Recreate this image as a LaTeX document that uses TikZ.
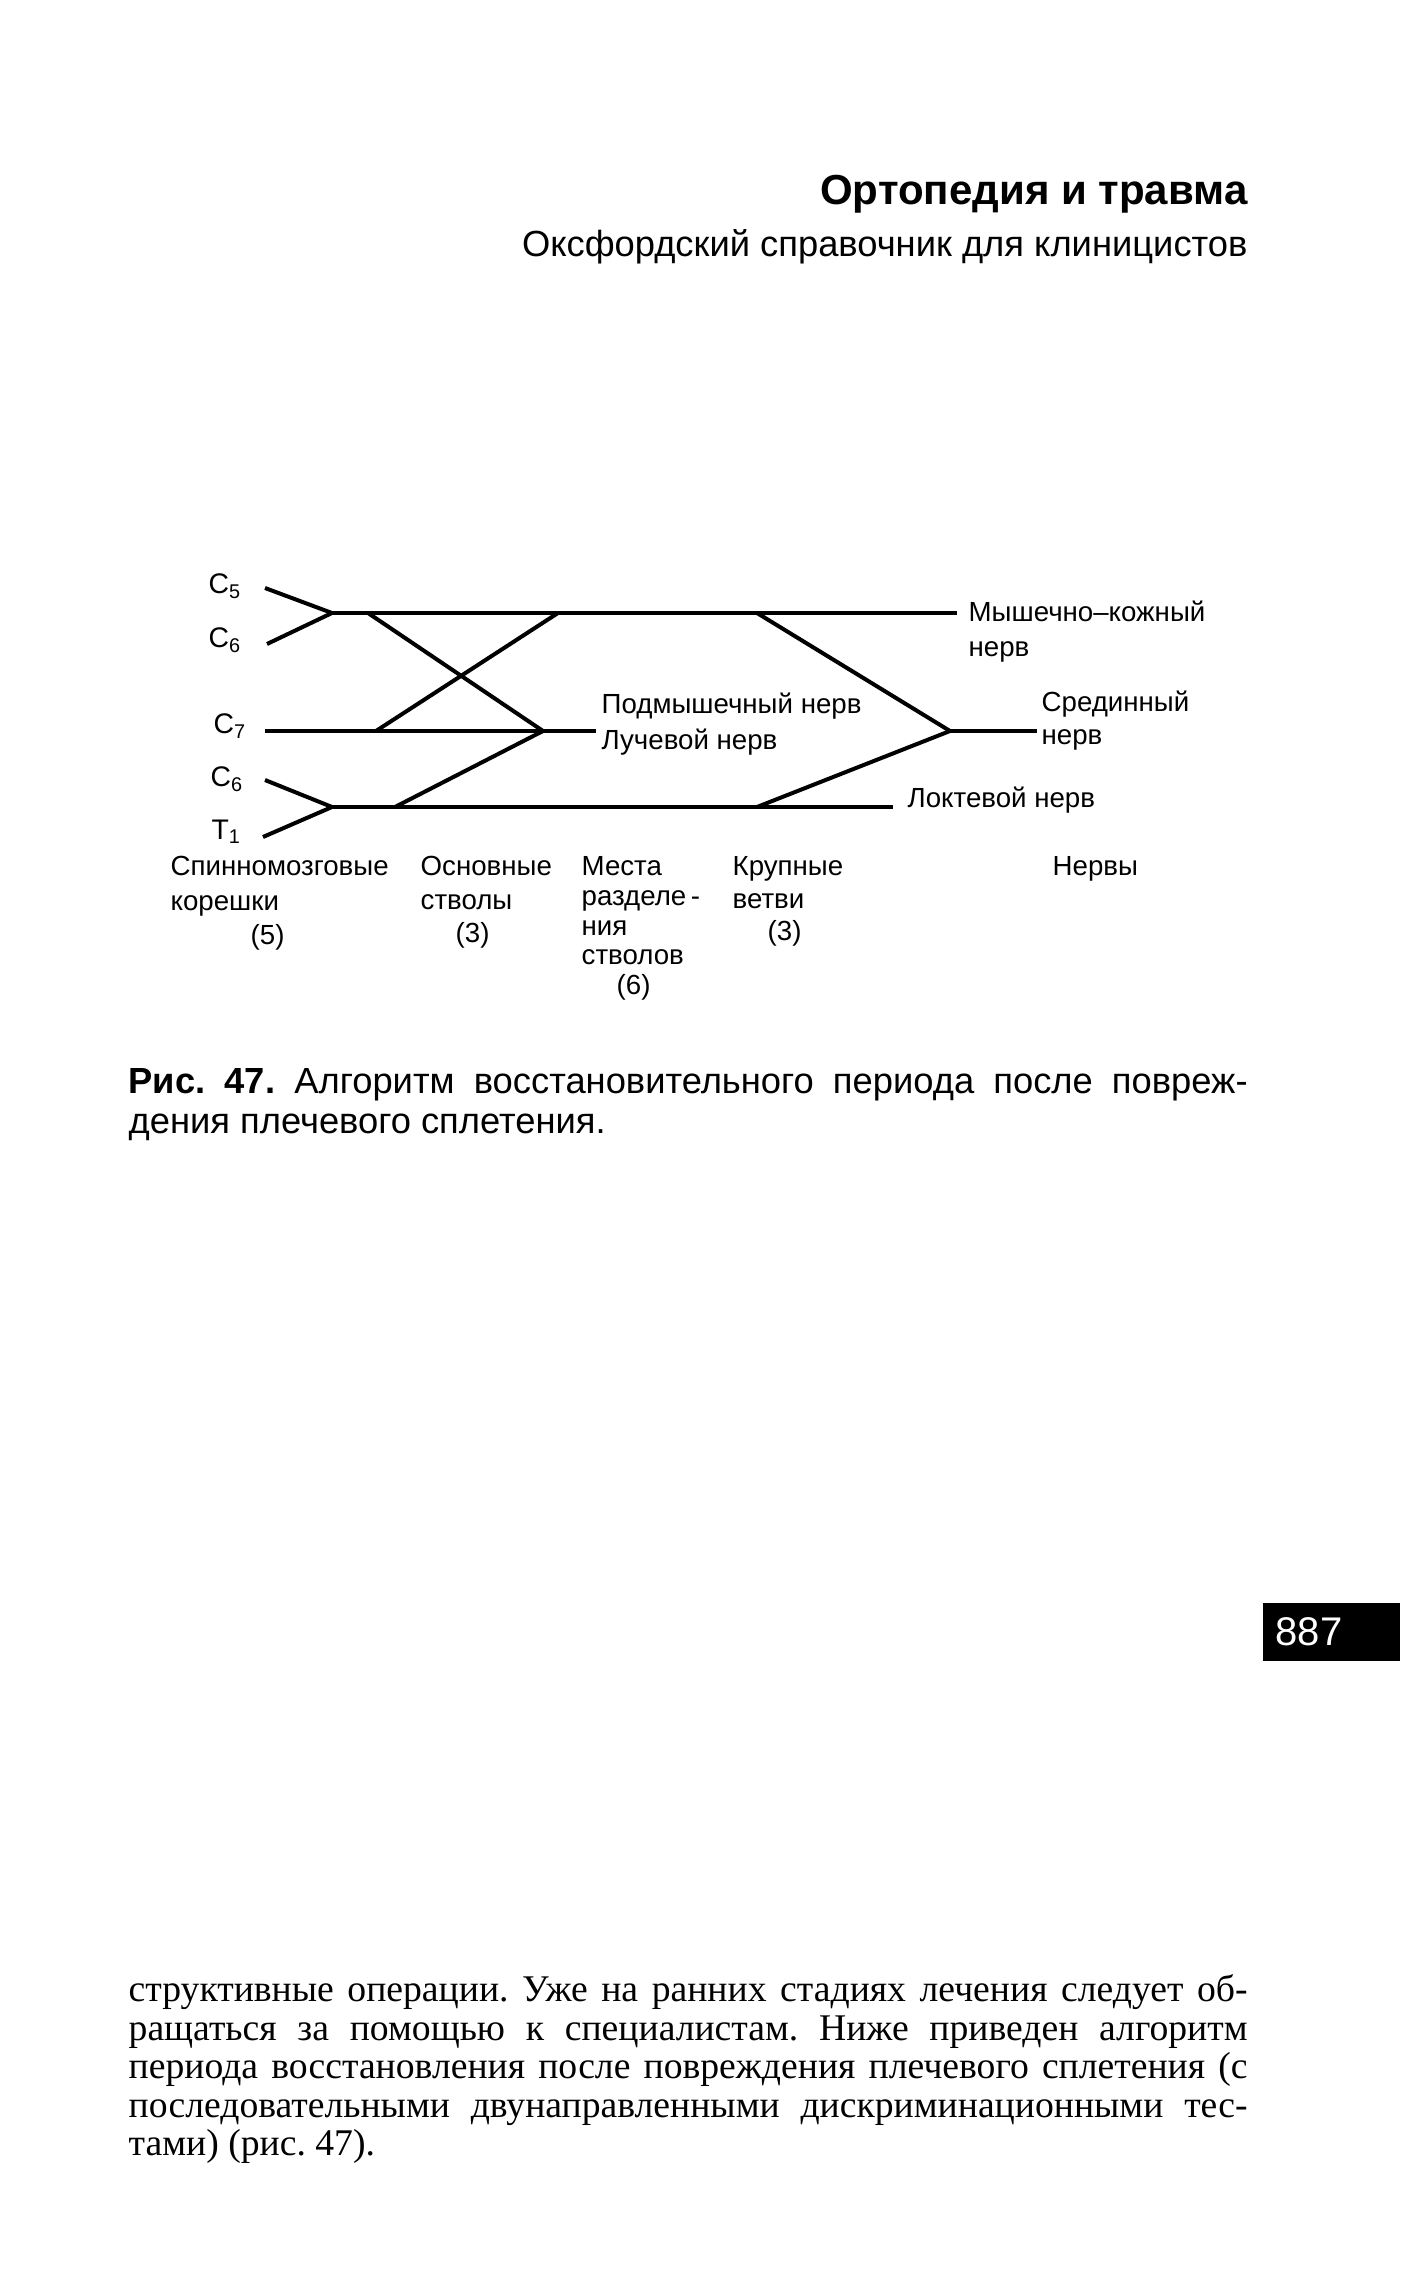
\documentclass[tikz,border=0pt]{standalone}
\usepackage{fontspec}
\setmainfont{Liberation Serif}
\setsansfont{Liberation Sans}
\usetikzlibrary{positioning}
\hyphenpenalty=10000
\tolerance=9999
\frenchspacing

\tikzstyle{nerve} = [line width=1.2pt]
\tikzstyle{rootlbl} = [anchor=west, inner sep=0pt, font=\sffamily\fontsize{8.5}{10}\selectfont]
\tikzstyle{nervelbl} = [anchor=north west, inner sep=0pt, align=left, font=\sffamily\fontsize{8.3}{10.5}\selectfont]
\tikzstyle{colhead} = [anchor=north west, inner sep=0pt, align=left]
\tikzstyle{headline} = [anchor=base east, inner sep=0pt]
\tikzstyle{textblock} = [anchor=north west, inner sep=0pt, text width=335.7pt, align=justify]
\tikzstyle{pagebox} = [anchor=north west, fill=black, text=white, inner xsep=3.9pt, inner ysep=0pt,
        minimum height=17.4pt, text width=33.3pt, align=left, font=\sffamily\fontsize{12}{14}\selectfont]

\begin{document}
\begin{tikzpicture}[x=0.3pt, y=-0.3pt]
\useasboundingbox (0,0) rectangle (1417,2279);

% header
\node (title) [headline, font=\sffamily\bfseries\fontsize{12.6}{15}\selectfont] at (1248,205) {Ортопедия и травма};
\node (subtitle) [headline, font=\sffamily\fontsize{10.9}{13}\selectfont] at (1248,257) {Оксфордский справочник для клиницистов};

% spinal roots
\node (c5) [rootlbl] at (208,586) {C\textsubscript{5}};
\node (c6) [rootlbl] at (208,640) {C\textsubscript{6}};
\node (c7) [rootlbl] at (213,726) {C\textsubscript{7}};
\node (c6b) [rootlbl] at (210,779) {C\textsubscript{6}};
\node (t1) [rootlbl] at (211,832) {T\textsubscript{1}};

\coordinate (c5s) at (265,588);
\coordinate (c6s) at (267,644);
\coordinate (c7s) at (265,731);
\coordinate (c6bs) at (265,780);
\coordinate (t1s) at (263,837);

% trunks and cords
\coordinate (upper) at (332,613);
\coordinate (lower) at (332,807);
\coordinate (upperend) at (957,613);
\coordinate (middleend) at (596,731);
\coordinate (lowerend) at (893,807);

\coordinate (uppost) at (368,613);
\coordinate (postcord) at (543,731);
\coordinate (latjoin) at (558,613);
\coordinate (midant) at (376,731);
\coordinate (lowpost) at (395,807);

\coordinate (latmed) at (757,613);
\coordinate (medmed) at (757,807);
\coordinate (median) at (950,731);
\coordinate (medianend) at (1037,731);

% nerves
\node (musc) [nervelbl] at (968,600) {Мышечно–кожный\\нерв};
\node (medlbl) [nervelbl, font=\sffamily\fontsize{8.3}{9.9}\selectfont] at (1041,690) {Срединный\\нерв};
\node (ulnar) [nervelbl, anchor=west] at (907,800) {Локтевой нерв};
\node (axrad) [nervelbl, font=\sffamily\fontsize{8.3}{10.8}\selectfont] at (601,692) {Подмышечный нерв\\Лучевой нерв};

\draw [nerve] (c5s) -- (upper);
\draw [nerve] (c6s) -- (upper);
\draw [nerve] (upper) -- (upperend);
\draw [nerve] (c7s) -- (middleend);
\draw [nerve] (c6bs) -- (lower);
\draw [nerve] (t1s) -- (lower);
\draw [nerve] (lower) -- (lowerend);

\draw [nerve] (uppost) -- (postcord);
\draw [nerve] (latjoin) -- (midant);
\draw [nerve] (lowpost) -- (postcord);

\draw [nerve] (latmed) -- (median);
\draw [nerve] (medmed) -- (median);
\draw [nerve] (median) -- (medianend);

% column headings
\node (roots) [colhead, font=\sffamily\fontsize{8.3}{10.35}\selectfont] at (170,856) {Спинномозговые\\корешки\\\hspace*{24pt}(5)};
\node (trunks) [colhead, font=\sffamily\fontsize{8.3}{10}\selectfont] at (420,856) {Основные\\стволы\\\hspace*{10.5pt}(3)};
\node (divisions) [colhead, font=\sffamily\fontsize{8.3}{8.9}\selectfont] at (581,856) {Места\\разделе\,-\\ния\\стволов\\\hspace*{10.5pt}(6)};
\node (cords) [colhead, font=\sffamily\fontsize{8.3}{9.75}\selectfont] at (732,856) {Крупные\\ветви\\\hspace*{10.5pt}(3)};
\node (nerves) [colhead, font=\sffamily\fontsize{8.3}{10}\selectfont] at (1052,856) {Нервы};

% caption
\node (caption) [textblock, font=\sffamily\fontsize{10.9}{12}\selectfont] at (128,1068)
    {\textbf{Рис. 47.} Алгоритм восстановительного периода после повреж-\linebreak дения плечевого сплетения.};

% page number
\node (pagenum) [pagebox] at (1262,1602) {887};

% body text
\node (body) [textblock, font=\rmfamily\fontsize{11.3}{11.55}\selectfont] at (128,1974)
    {структивные операции. Уже на ранних стадиях лечения следует об-\linebreak ращаться за помощью к специалистам. Ниже приведен алгоритм периода восстановления после повреждения плечевого сплетения (с\linebreak последовательными двунаправленными дискриминационными тес-\linebreak тами) (рис.~47).};

\end{tikzpicture}
\end{document}
